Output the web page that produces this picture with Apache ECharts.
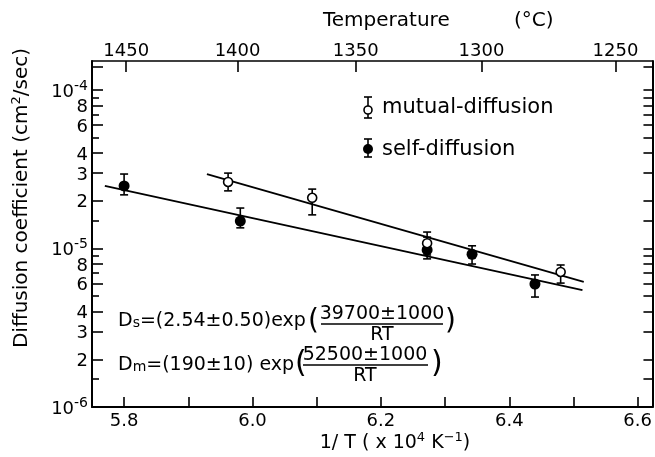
<!DOCTYPE html>
<html>
<head>
<meta charset="utf-8">
<script src="https://cdn.jsdelivr.net/npm/echarts@6/dist/echarts.min.js"></script>
<style>
  html, body { margin: 0; padding: 0; background: #fff; }
  #chart { width: 655px; height: 457px; }
</style>
</head>
<body>
<div id="chart"></div>
<script>
// 1/T (x 10^4 K^-1) and diffusion coefficient (cm^2/sec)
const selfX = [5.80, 5.981, 6.272, 6.342, 6.440];
const selfD = [2.48e-5, 1.49e-5, 9.8e-6, 9.2e-6, 5.97e-6];
const selfHi = [2.95e-5, 1.80e-5, 1.18e-5, 1.04e-5, 6.81e-6];
const selfLo = [2.18e-5, 1.35e-5, 8.6e-6, 7.98e-6, 4.94e-6];

const mutX = [5.962, 6.093, 6.272, 6.480];
const mutD = [2.63e-5, 2.09e-5, 1.08e-5, 7.11e-6];
const mutHi = [2.99e-5, 2.37e-5, 1.27e-5, 7.87e-6];
const mutLo = [2.31e-5, 1.63e-5, 9.1e-6, 6.05e-6];

// fitted lines (end points)
const selfFitX = [5.770, 6.514];
const selfFitD = [2.48e-5, 5.47e-6];
const mutFitX = [5.929, 6.516];
const mutFitD = [2.95e-5, 6.15e-6];

// axis ticks
const xTicks = [5.8, 5.9, 6.0, 6.1, 6.2, 6.3, 6.4, 6.5, 6.6];
const xLabels = [5.8, 6.0, 6.2, 6.4, 6.6];
const tempTicks = [1450, 1400, 1350, 1300, 1250]; // degrees C
const yLabelTicks = [1e-6, 2e-6, 3e-6, 4e-6, 6e-6, 8e-6, 1e-5, 2e-5, 3e-5, 4e-5, 6e-5, 8e-5, 1e-4, 1.4e-4];
const yMinorTicks = [1.5e-6, 5e-6, 7e-6, 9e-6, 1.5e-5, 5e-5, 7e-5, 9e-5];
const yAllTicks = yLabelTicks.concat(yMinorTicks);

const FONT = "DejaVu Sans";
const chart = echarts.init(document.getElementById("chart"));

function invT(c) { return 1e4 / (c + 273.15); }

function yFormatter(v) {
  if (v === 1.4e-4) return "";
  const e = Math.round(Math.log10(v));
  const m = v / Math.pow(10, e);
  if (Math.abs(m - 1) < 1e-6) return "{b|10}{s|" + e + "}";
  const e2 = Math.floor(Math.log10(v) + 1e-9);
  return "{b|" + Math.round(v / Math.pow(10, e2)) + "}";
}

function errRender(params, api) {
  const x = api.value(0);
  const pLo = api.coord([x, api.value(1)]);
  const pHi = api.coord([x, api.value(2)]);
  const w = 4;
  const st = { stroke: "#000", lineWidth: 1.6 };
  return {
    type: "group",
    children: [
      { type: "line", shape: { x1: pLo[0], y1: pLo[1], x2: pHi[0], y2: pHi[1] }, style: st },
      { type: "line", shape: { x1: pHi[0] - w, y1: pHi[1], x2: pHi[0] + w, y2: pHi[1] }, style: st },
      { type: "line", shape: { x1: pLo[0] - w, y1: pLo[1], x2: pLo[0] + w, y2: pLo[1] }, style: st }
    ]
  };
}

const zip2 = (a, b) => a.map((v, i) => [v, b[i]]);
const zip3 = (a, b, c) => a.map((v, i) => [v, b[i], c[i]]);

function label(x, y, text, size, extra) {
  return { type: "text", x: x, y: y, style: Object.assign(
    { text: text, fontSize: size, fontFamily: FONT, fill: "#000", textVerticalAlign: "middle" }, extra || {}) };
}
function seg(x1, y1, x2, y2) {
  return { type: "line", shape: { x1: x1, y1: y1, x2: x2, y2: y2 }, style: { stroke: "#000", lineWidth: 1.6 } };
}
const subRich = { s: { fontSize: 14, fontFamily: FONT, fill: "#000", verticalAlign: "bottom", lineHeight: 18 } };
const supRich = { s: { fontSize: 13, fontFamily: FONT, fill: "#000", verticalAlign: "top", lineHeight: 24 } };

const option = {
  animation: false,
  backgroundColor: "#fff",
  grid: { left: 92, right: 2, top: 61, bottom: 50 },
  xAxis: [
    {
      type: "value", min: 5.75, max: 6.623,
      axisLine: { lineStyle: { color: "#000", width: 2 } },
      axisTick: { inside: true, length: 10, customValues: xTicks, lineStyle: { color: "#000", width: 1.6 } },
      axisLabel: { customValues: xLabels, margin: 5, fontSize: 18, fontFamily: FONT, color: "#000",
        formatter: v => v.toFixed(1) },
      splitLine: { show: false }
    },
    {
      type: "value", position: "top", min: 5.75, max: 6.623,
      axisLine: { lineStyle: { color: "#000", width: 1.5 } },
      axisTick: { inside: true, length: 11, customValues: tempTicks.map(invT), lineStyle: { color: "#000", width: 1.6 } },
      axisLabel: { customValues: tempTicks.map(invT), margin: 1, fontSize: 18, fontFamily: FONT, color: "#000",
        formatter: v => String(Math.round(1e4 / v - 273.15)) },
      splitLine: { show: false }
    }
  ],
  yAxis: [
    {
      type: "log", min: 1e-6, max: 1.524e-4, position: "left",
      axisLine: { show: true, lineStyle: { color: "#000", width: 2 } },
      axisTick: { inside: true, length: 11, customValues: yLabelTicks, lineStyle: { color: "#000", width: 1.6 } },
      axisLabel: {
        customValues: yLabelTicks, margin: 4, formatter: yFormatter,
        rich: {
          b: { fontSize: 18, fontFamily: FONT, color: "#000", lineHeight: 22, verticalAlign: "bottom" },
          s: { fontSize: 14, fontFamily: FONT, color: "#000", lineHeight: 22, verticalAlign: "top" }
        }
      },
      splitLine: { show: false }
    },
    {
      type: "log", min: 1e-6, max: 1.524e-4, position: "left",
      axisLine: { show: false },
      axisTick: { inside: true, length: 7, customValues: yMinorTicks, lineStyle: { color: "#000", width: 1.6 } },
      axisLabel: { show: false },
      splitLine: { show: false }
    },
    {
      type: "log", min: 1e-6, max: 1.524e-4, position: "right",
      axisLine: { show: true, lineStyle: { color: "#000", width: 2 } },
      axisTick: { inside: true, length: 9, customValues: yAllTicks, lineStyle: { color: "#000", width: 1.6 } },
      axisLabel: { show: false },
      splitLine: { show: false }
    }
  ],
  series: [
    { type: "line", data: zip2(selfFitX, selfFitD), symbol: "none", lineStyle: { color: "#000", width: 1.8 }, z: 2 },
    { type: "line", data: zip2(mutFitX, mutFitD), symbol: "none", lineStyle: { color: "#000", width: 1.8 }, z: 2 },
    { type: "custom", renderItem: errRender, data: zip3(selfX, selfLo, selfHi), encode: { x: 0, y: [1, 2] }, z: 3 },
    { type: "scatter", data: zip2(selfX, selfD), symbol: "circle", symbolSize: 11,
      itemStyle: { color: "#000", opacity: 1 }, z: 4 },
    { type: "custom", renderItem: errRender, data: zip3(mutX, mutLo, mutHi), encode: { x: 0, y: [1, 2] }, z: 5 },
    { type: "scatter", data: zip2(mutX, mutD), symbol: "circle", symbolSize: 9,
      itemStyle: { color: "#fff", borderColor: "#000", borderWidth: 1.6, opacity: 1 }, z: 6 }
  ],
  graphic: [
    // axis titles
    label(323, 21, "Temperature", 20),
    label(514, 21, "(°C)", 20),
    label(395, 443, "1/ T ( x 10{s|4} K{s|−1})", 19, { textAlign: "center", rich: supRich }),
    Object.assign(label(22, 198, "Diffusion coefficient (cm{s|2}/sec)", 20, { textAlign: "center", rich: supRich }),
      { rotation: Math.PI / 2 }),
    // legend
    seg(368, 97, 368, 118), seg(364, 97, 372, 97), seg(364, 118, 372, 118),
    { type: "circle", shape: { cx: 368, cy: 110, r: 4 }, style: { fill: "#fff", stroke: "#000", lineWidth: 1.6 } },
    label(382, 108, "mutual-diffusion", 21),
    seg(368, 139, 368, 157), seg(364, 139, 372, 139), seg(364, 157, 372, 157),
    { type: "circle", shape: { cx: 368, cy: 149, r: 5 }, style: { fill: "#000" } },
    label(382, 150, "self-diffusion", 21),
    // equations
    label(118, 321, "D{s|s}=(2.54±0.50)exp", 19, { rich: subRich }),
    label(308, 322, "(", 28),
    label(382, 314, "39700±1000", 19, { textAlign: "center" }),
    seg(321, 324, 443, 324),
    label(382, 335, "RT", 19, { textAlign: "center" }),
    label(445, 322, ")", 28),
    label(118, 365, "D{s|m}=(190±10) exp", 19, { rich: subRich }),
    label(295, 364, "(", 30),
    label(365, 355, "52500±1000", 19, { textAlign: "center" }),
    seg(303, 365, 428, 365),
    label(365, 376, "RT", 19, { textAlign: "center" }),
    label(431, 364, ")", 30)
  ]
};

chart.setOption(option);
</script>
</body>
</html>
